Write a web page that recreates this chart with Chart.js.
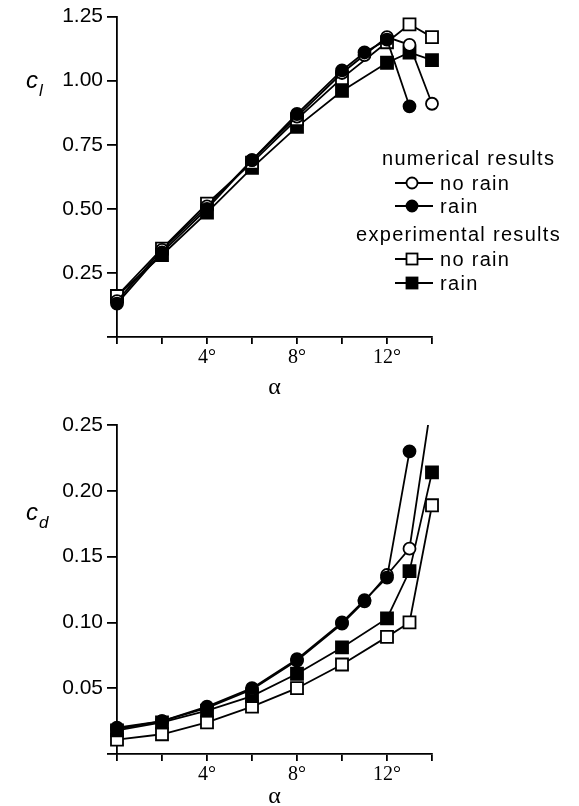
<!DOCTYPE html>
<html>
<head>
<meta charset="utf-8">
<script src="https://cdn.jsdelivr.net/npm/chart.js@4.4.1/dist/chart.umd.min.js"></script>
<style>
body { margin: 0; background: #fff; }
#wrap { position: relative; width: 579px; height: 806px; overflow: hidden; }
#wrap canvas { position: absolute; left: 0; }
.leg { position: absolute; font-family: 'Liberation Sans', Arial, sans-serif; font-size: 20px; letter-spacing: 1.3px; color: #000; line-height: 20px; white-space: nowrap; }
.leg svg { position: absolute; left: -45px; top: 3px; }
</style>
</head>
<body>
<div id="wrap">
  <div style="position:absolute;left:0;top:0;width:579px;height:400px"><canvas id="liftChart"></canvas></div>
  <div style="position:absolute;left:0;top:400px;width:579px;height:406px"><canvas id="dragChart"></canvas></div>

  <div class="leg" style="left:382px;top:148px">numerical results</div>
  <div class="leg" style="left:440px;top:173px"><svg width="38" height="14"><line x1="0" y1="7" x2="38" y2="7" stroke="#000" stroke-width="1.8"/><circle cx="17" cy="7" r="5.5" fill="#fff" stroke="#000" stroke-width="1.8"/></svg>no rain</div>
  <div class="leg" style="left:440px;top:196px"><svg width="38" height="14"><line x1="0" y1="7" x2="38" y2="7" stroke="#000" stroke-width="1.8"/><circle cx="17" cy="7" r="5.5" fill="#000" stroke="#000" stroke-width="1.8"/></svg>rain</div>
  <div class="leg" style="left:356px;top:224px">experimental results</div>
  <div class="leg" style="left:440px;top:249px"><svg width="38" height="14"><line x1="0" y1="7" x2="38" y2="7" stroke="#000" stroke-width="1.8"/><rect x="11.5" y="1.5" width="11" height="11" fill="#fff" stroke="#000" stroke-width="1.8"/></svg>no rain</div>
  <div class="leg" style="left:440px;top:273px"><svg width="38" height="14"><line x1="0" y1="7" x2="38" y2="7" stroke="#000" stroke-width="1.8"/><rect x="11.5" y="1.5" width="11" height="11" fill="#000" stroke="#000" stroke-width="1.8"/></svg>rain</div>
</div>

<script>
// angle of attack (deg)
var alphaNumNoRain = [0, 2, 4, 6, 8, 10, 11, 12, 13, 14];
var alphaNumRain = [0, 2, 4, 6, 8, 10, 11, 12, 13];
var alphaExp = [0, 2, 4, 6, 8, 10, 12, 13, 14];

// lift coefficient
var clNumNoRain = [0.14, 0.34, 0.51, 0.69, 0.86, 1.03, 1.10, 1.17, 1.14, 0.91];
var clNumRain = [0.13, 0.33, 0.50, 0.69, 0.87, 1.04, 1.11, 1.16, 0.90];
var clExpNoRain = [0.16, 0.345, 0.52, 0.68, 0.85, 1.01, 1.15, 1.22, 1.17];
var clExpRain = [0.16, 0.32, 0.485, 0.66, 0.82, 0.96, 1.07, 1.11, 1.08];

// drag coefficient
var cdNumNoRain = [0.019, 0.025, 0.035, 0.049, 0.071, 0.099, 0.116, 0.136, 0.156, 0.27];
var cdNumRain = [0.020, 0.025, 0.036, 0.050, 0.072, 0.100, 0.117, 0.134, 0.230];
var cdExpNoRain = [0.011, 0.015, 0.024, 0.036, 0.050, 0.068, 0.089, 0.100, 0.189];
var cdExpRain = [0.018, 0.024, 0.033, 0.044, 0.061, 0.081, 0.103, 0.139, 0.214];

var xTicks = [4, 8, 12];

function pts(xs, ys) {
  return xs.map(function (x, i) { return { x: x, y: ys[i] }; });
}

function series(label, xs, ys, shape, filled, clipTop) {
  return {
    label: label,
    data: pts(xs, ys),
    borderColor: '#000',
    borderWidth: 1.8,
    pointStyle: shape,
    pointRadius: shape == 'rect' ? 8.5 : 6,
    pointHoverRadius: shape == 'rect' ? 8.5 : 6,
    pointBackgroundColor: filled ? '#000' : '#fff',
    pointBorderColor: '#000',
    pointBorderWidth: 1.8,
    fill: false,
    tension: 0,
    clip: { left: 12, right: 12, top: clipTop, bottom: 12 }
  };
}

// draws the c_l / c_d symbol next to the y axis
var symbolPlugin = {
  id: 'symbol',
  afterDraw: function (chart, args, opts) {
    var ctx = chart.ctx;
    ctx.save();
    ctx.fillStyle = '#000';
    ctx.textBaseline = 'alphabetic';
    ctx.font = 'italic 24px "Liberation Sans"';
    ctx.fillText('c', opts.x, opts.y);
    ctx.font = 'italic 17px "Liberation Sans"';
    ctx.fillText(opts.sub, opts.x + 13, opts.y + 8);
    ctx.restore();
  }
};

function scales(ymax, ystep, xHeight, titlePad) {
  return {
    x: {
      type: 'linear',
      min: 0,
      max: 14,
      afterFit: function (s) { s.height = xHeight; },
      ticks: {
        stepSize: 2,
        autoSkip: false,
        maxRotation: 0,
        color: '#000',
        padding: 2,
        font: { family: 'Liberation Serif', size: 20 },
        callback: function (v) { return xTicks.indexOf(v) >= 0 ? v + '°' : ''; }
      },
      grid: { drawOnChartArea: false, color: '#000', lineWidth: 1.8, tickLength: 7 },
      border: { color: '#000', width: 1.8 },
      title: {
        display: true,
        text: 'α',
        color: '#000',
        font: { family: 'Liberation Serif', size: 24, lineHeight: 0.8 },
        padding: { top: 0, bottom: titlePad }
      }
    },
    y: {
      min: 0,
      max: ymax,
      afterFit: function (s) { s.width = 117; },
      ticks: {
        stepSize: ystep,
        color: '#000',
        padding: 4,
        font: { family: 'Liberation Sans', size: 21 },
        callback: function (v) { return v == 0 ? '' : v.toFixed(2); }
      },
      grid: { drawOnChartArea: false, color: '#000', lineWidth: 1.8, tickLength: 10 },
      border: { color: '#000', width: 1.8 }
    }
  };
}

function makeChart(id, sets, ymax, ystep, pad, xHeight, titlePad, sym) {
  return new Chart(document.getElementById(id), {
    type: 'line',
    data: { datasets: sets },
    options: {
      responsive: true,
      maintainAspectRatio: false,
      animation: false,
      events: [],
      layout: { padding: pad },
      plugins: { legend: { display: false }, tooltip: { enabled: false }, symbol: sym },
      scales: scales(ymax, ystep, xHeight, titlePad)
    },
    plugins: [symbolPlugin]
  });
}

makeChart('liftChart', [
  series('numerical rain', alphaNumRain, clNumRain, 'circle', true, 12),
  series('numerical no rain', alphaNumNoRain, clNumNoRain, 'circle', false, 12),
  series('experimental no rain', alphaExp, clExpNoRain, 'rect', false, 12),
  series('experimental rain', alphaExp, clExpRain, 'rect', true, 12)
], 1.25, 0.25, { top: 15, right: 147, bottom: 0, left: 0 }, 63, 3, { x: 26, y: 88, sub: 'l' });

makeChart('dragChart', [
  series('numerical rain', alphaNumRain, cdNumRain, 'circle', true, 0),
  series('numerical no rain', alphaNumNoRain, cdNumNoRain, 'circle', false, 0),
  series('experimental rain', alphaExp, cdExpRain, 'rect', true, 0),
  series('experimental no rain', alphaExp, cdExpNoRain, 'rect', false, 0)
], 0.25, 0.05, { top: 25, right: 147, bottom: 0, left: 0 }, 52, 0, { x: 26, y: 120, sub: 'd' });
</script>
</body>
</html>
